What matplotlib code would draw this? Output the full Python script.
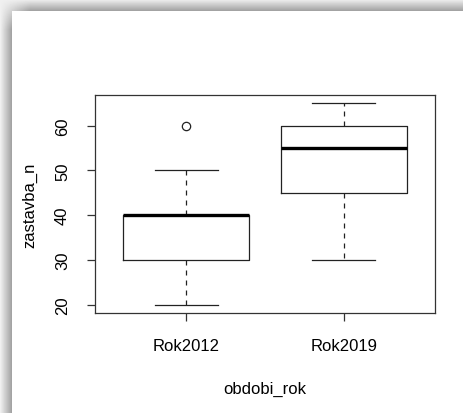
import numpy as np
import matplotlib
matplotlib.use("Agg")
matplotlib.rcParams["font.family"] = ["Liberation Sans", "DejaVu Sans"]
import matplotlib.pyplot as plt

# data (boxplot summary per group)
groups = ["Rok2012", "Rok2019"]
whislo = [20, 30]
q1 = [30, 45]
med = [40, 55]
q3 = [40, 60]
whishi = [50, 65]
fliers = [[60], []]

W, H = 464, 414
fig = plt.figure(figsize=(W / 100, H / 100), dpi=100)

# gray shadow frame on top and left edge
bg = fig.add_axes([0, 0, 1, 1])
yy, xx = np.mgrid[0:H, 0:W]
dark_top = np.where(yy < 12, (yy / 12.0) * 0.33 * np.clip(xx / 30.0, 0, 1), 0)
dark_left = np.where(xx < 12, (xx / 12.0) * 0.33 * np.clip(yy / 30.0, 0, 1), 0)
shade = np.where((yy < 12) | (xx < 12), 0.94 - np.maximum(dark_top, dark_left), 1.0)
bg.imshow(shade, cmap="gray", vmin=0, vmax=1, aspect="auto", interpolation="nearest",
          extent=(0, W, H, 0))
bg.set_xlim(0, W)
bg.set_ylim(H, 0)
bg.axis("off")

ax = fig.add_axes([95 / W, 1 - 314 / H, 340 / W, 218 / H])
stats = []
for i, g in enumerate(groups):
    stats.append(dict(label=g, whislo=whislo[i], q1=q1[i], med=med[i],
                      q3=q3[i], whishi=whishi[i], fliers=fliers[i]))

ax.bxp(stats, positions=[1, 2], widths=0.8,
       boxprops=dict(color="#222222", linewidth=0.9),
       medianprops=dict(color="black", linewidth=2.4, solid_capstyle="butt"),
       whiskerprops=dict(color="#222222", linewidth=0.9, linestyle=(0, (4, 4))),
       capprops=dict(color="#222222", linewidth=0.9),
       flierprops=dict(marker="o", markerfacecolor="none", markeredgecolor="#222222",
                       markersize=6, markeredgewidth=0.9),
       capwidths=0.4)

ax.set_xlim(0.42, 2.58)
ax.set_ylim(18.2, 66.8)
ax.set_yticks([20, 30, 40, 50, 60])
for s in ax.spines.values():
    s.set_color("#333333")
    s.set_linewidth(0.9)
ax.tick_params(axis="both", length=6, width=0.9, color="#333333", labelsize=12, pad=12)
for lab in ax.get_yticklabels():
    lab.set_rotation(90)
    lab.set_va("center")
ax.set_xlabel("obdobi_rok", fontsize=12, labelpad=20)
ax.set_ylabel("zastavba_n", fontsize=12, labelpad=13)

fig.savefig("out.png", dpi=100)
